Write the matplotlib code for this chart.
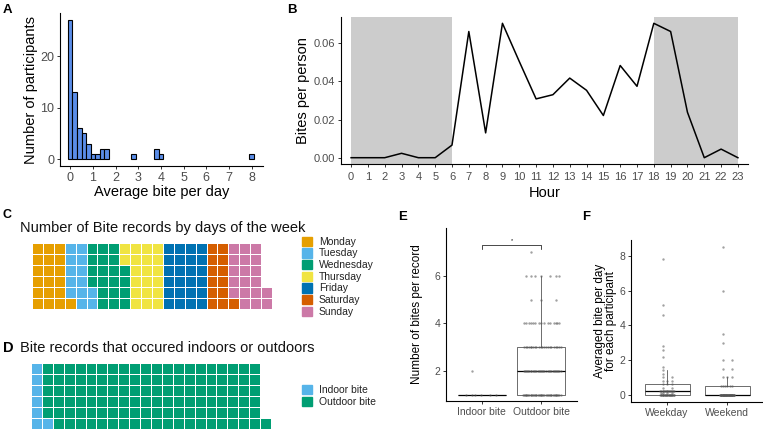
import matplotlib
matplotlib.use('Agg')
import matplotlib.pyplot as plt
import numpy as np
from matplotlib.colors import ListedColormap
from matplotlib.patches import Patch

plt.rcParams['font.family'] = ['Liberation Sans', 'DejaVu Sans']

# ---- data ----
# A: histogram of average bites per day (bin centre, count)
hist_centres = [0.0, 0.2, 0.4, 0.6, 0.8, 1.0, 1.2, 1.4, 1.6, 2.8, 3.8, 4.0, 8.0]
hist_counts = [27, 13, 6, 5, 3, 1, 1, 2, 2, 1, 2, 1, 1]

# B: bites per person by hour
hours = list(range(24))
bites_per_person = [0.0, 0.0, 0.0, 0.0023, 0.0, 0.0, 0.0066, 0.0661, 0.013, 0.0704,
                    0.0504, 0.0308, 0.033, 0.0417, 0.0353, 0.0221, 0.0483, 0.0374,
                    0.0704, 0.0661, 0.0238, 0.0, 0.0045, 0.0]

# C: bite records per weekday
days = ['Monday', 'Tuesday', 'Wednesday', 'Thursday', 'Friday', 'Saturday', 'Sunday']
day_counts = [19, 13, 20, 20, 24, 13, 19]
day_colors = ['#E69F00', '#56B4E9', '#009E73', '#F0E442', '#0072B2', '#D55E00', '#CC79A7']

# D: indoor / outdoor records
places = ['Indoor bite', 'Outdoor bite']
place_counts = [7, 120]
place_colors = ['#56B4E9', '#009E73']

# E: number of bites per record (value -> count)
e_groups = ['Indoor bite', 'Outdoor bite']
indoor_values = [1, 2]
indoor_counts = [6, 1]
outdoor_values = [1, 2, 3, 4, 5, 6, 7]
outdoor_counts = [40, 32, 22, 15, 3, 7, 1]

# F: averaged bite per day per participant
f_groups = ['Weekday', 'Weekend']
weekday_values = [7.8, 5.2, 4.6, 2.8, 2.6, 2.2, 1.6, 1.4, 1.2, 1.0, 1.0, 0.8, 0.8, 0.8,
                  0.6, 0.6, 0.6, 0.4, 0.4] + [0.2] * 16 + [0.1] * 4 + [0.0] * 26
weekend_values = [8.5, 6.0, 3.5, 3.0, 2.0, 2.0, 1.5, 1.5, 1.0, 1.0, 1.0] + [0.5] * 6 + [0.0] * 48

W, H = 763, 429
fig = plt.figure(figsize=(W / 100, H / 100), dpi=100)

TICK_C = '#4d4d4d'


def px_axes(x0, y0, x1, y1):
    return fig.add_axes([x0 / W, 1 - y1 / H, (x1 - x0) / W, (y1 - y0) / H])


def classic(ax, tsize, pad=1.5):
    for s in ['top', 'right']:
        ax.spines[s].set_visible(False)
    for s in ['left', 'bottom']:
        ax.spines[s].set_linewidth(0.8)
    ax.tick_params(length=2.5, width=0.7, color='#333333', labelsize=tsize,
                   labelcolor=TICK_C, pad=pad)


def spread(n, half):
    k = np.arange(n)
    return ((k * 0.6180339887 + 0.25) % 1 - 0.5) * 2 * half


def panel_label(x, y, s, size=9.5):
    fig.text(x / W, 1 - y / H, s, fontsize=size, fontweight='bold', va='baseline')


# ---- A ----
axA = px_axes(60, 13, 263, 166)
axA.bar(hist_centres, hist_counts, width=0.2, color='#5A8DE8', edgecolor='black', linewidth=0.8)
axA.set_xlim(-0.45, 8.5)
axA.set_ylim(-1.35, 28.35)
axA.set_xticks(range(9))
axA.set_yticks([0, 10, 20])
classic(axA, 9)
axA.set_xlabel('Average bite per day', fontsize=10.5, labelpad=1)
axA.set_ylabel('Number of participants', fontsize=10.5, labelpad=2)
panel_label(3, 13, 'A')

# ---- B ----
axB = px_axes(341, 17, 748, 164)
axB.axvspan(0, 6, color='#cccccc', lw=0, zorder=0)
axB.axvspan(18, 23, color='#cccccc', lw=0, zorder=0)
axB.plot(hours, bites_per_person, color='black', lw=1.1)
axB.set_xlim(-0.6, 23.6)
axB.set_ylim(-0.0033, 0.0737)
axB.set_xticks(hours)
axB.set_yticks([0, 0.02, 0.04, 0.06])
axB.set_yticklabels(['0.00', '0.02', '0.04', '0.06'])
classic(axB, 8)
axB.tick_params(axis='x', pad=3)
axB.set_xlabel('Hour', fontsize=10.5, labelpad=3)
axB.set_ylabel('Bites per person', fontsize=10.5, labelpad=3)
panel_label(287, 13, 'B')


# ---- waffles ----
def waffle(ax, counts, colors, ncols, nrows=6):
    grid = np.full((nrows, ncols), np.nan)
    k = 0
    for i, c in enumerate(counts):
        for _ in range(c):
            grid[k % nrows, k // nrows] = i
            k += 1
    ax.pcolormesh(np.arange(ncols + 1), np.arange(nrows + 1), grid,
                  cmap=ListedColormap(colors), vmin=-0.5, vmax=len(colors) - 0.5,
                  edgecolors='#ffffff', linewidth=0.5)
    ax.set_xlim(0, ncols)
    ax.set_ylim(0, nrows)
    ax.axis('off')


axC = px_axes(32, 243, 272, 309)
waffle(axC, day_counts, day_colors, 22)
fig.text(20 / W, 1 - 232 / H, 'Number of Bite records by days of the week', fontsize=10.5,
         va='baseline', color='#111111')
panel_label(3, 218, 'C', 9)
axC.legend([Patch(color=c) for c in day_colors], days, loc='upper left',
           bbox_to_anchor=(302 / W, 1 - 236.5 / H), bbox_transform=fig.transFigure,
           frameon=False, fontsize=7.5, handlelength=1.0, handleheight=1.0,
           handletextpad=0.6, labelspacing=0.14, borderpad=0, borderaxespad=0,
           labelcolor='#222222')

axD = px_axes(31, 363, 271, 429)
waffle(axD, place_counts, place_colors, 22)
fig.text(20 / W, 1 - 351.5 / H, 'Bite records that occured indoors or outdoors', fontsize=10.5,
         va='baseline', color='#111111')
panel_label(3, 351.5, 'D', 10.5)
axD.legend([Patch(color=c) for c in place_colors], places, loc='upper left',
           bbox_to_anchor=(302 / W, 1 - 385 / H), bbox_transform=fig.transFigure,
           frameon=False, fontsize=7.5, handlelength=1.0, handleheight=1.0,
           handletextpad=0.6, labelspacing=0.14, borderpad=0, borderaxespad=0,
           labelcolor='#222222')


# ---- E ----
def box_with_points(ax, data_lists, box_w, jit):
    bp = ax.boxplot(data_lists, positions=[1, 2], widths=box_w, showfliers=False,
                    patch_artist=True, whis=1.5)
    for b in bp['boxes']:
        b.set(facecolor='white', edgecolor='#333333', linewidth=0.5)
    for part in ['whiskers', 'caps']:
        for l in bp[part]:
            l.set(color='#333333', linewidth=0.5)
    for l in bp['caps']:
        l.set_visible(False)
    for l in bp['medians']:
        l.set(color='black', linewidth=0.9)
    for pos, vals in zip([1, 2], data_lists):
        vals = np.asarray(vals)
        xs = np.empty(len(vals))
        for v in np.unique(vals):
            m = vals == v
            xs[m] = pos + spread(m.sum(), jit)
        ax.scatter(xs, vals, s=3, color='#555555', alpha=0.55, lw=0, zorder=3)


indoor = np.repeat(indoor_values, indoor_counts)
outdoor = np.repeat(outdoor_values, outdoor_counts)
axE = px_axes(446, 228, 577, 401)
box_with_points(axE, [indoor, outdoor], 0.8, 0.33)
axE.plot([1, 1, 2, 2], [7.12, 7.3, 7.3, 7.12], color='black', lw=0.5)
axE.text(1.5, 7.38, '*', fontsize=4, ha='center', va='bottom')
axE.set_xlim(0.4, 2.6)
axE.set_ylim(0.75, 8.0)
axE.set_xticks([1, 2])
axE.set_xticklabels(e_groups)
axE.set_yticks([2, 4, 6])
classic(axE, 7.5)
axE.set_ylabel('Number of bites per record', fontsize=8.5, labelpad=8)
panel_label(398, 220, 'E')

# ---- F ----
axF = px_axes(631, 240, 763, 402)
box_with_points(axF, [weekday_values, weekend_values], 0.75, 0.12)
axF.set_xlim(0.4, 2.6)
axF.set_ylim(-0.425, 8.925)
axF.set_xticks([1, 2])
axF.set_xticklabels(f_groups)
axF.set_yticks([0, 2, 4, 6, 8])
classic(axF, 7.5)
axF.set_ylabel('Averaged bite per day\nfor each participant', fontsize=8.5, labelpad=1.5,
               linespacing=0.95)
panel_label(582, 220, 'F')

fig.savefig('out.png', dpi=100)
